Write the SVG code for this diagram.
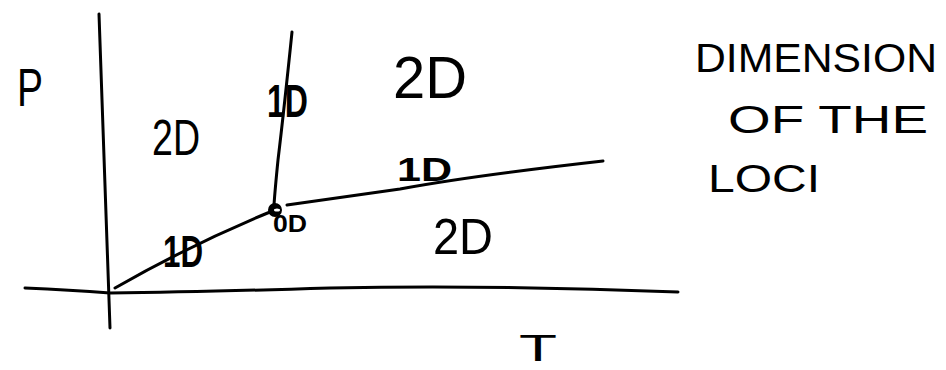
<svg xmlns="http://www.w3.org/2000/svg" width="946" height="370" viewBox="0 0 946 370">
<style>
.ln{fill:none;stroke:#000;stroke-width:3;stroke-linecap:round;stroke-linejoin:round}
.t{font-family:"Liberation Sans",Arial,sans-serif;fill:#000}
.b{font-weight:bold}
</style>
<rect width="946" height="370" fill="#fff"/>
<g id="connectors">
<path id="p-axis" class="ln" d="M99,14 Q104,170 110,328"/>
<path id="t-axis" class="ln" d="M25,288 Q70,290 110,293 Q200,292 330,288 Q500,285 678,292"/>
<path id="line-low" class="ln" d="M115,288 Q190,245 270,212"/>
<path id="line-right" class="ln" d="M287,205 Q330,199 400,189 Q470,176 603,161"/>
<path id="line-up" class="ln" d="M292,32 Q284,110 278,160 Q275,190 274,205"/>
</g>
<g id="triple-point">
<circle cx="275" cy="210" r="6" fill="#000" stroke="#000" stroke-width="2"/>
<ellipse cx="277" cy="210" rx="3" ry="1.5" fill="#fff"/>
</g>
<g id="label-p"><text class="t" x="17" y="106" font-size="54" textLength="26" lengthAdjust="spacingAndGlyphs">P</text></g>
<g id="region-2d-left"><text class="t" x="152" y="155" font-size="50" textLength="48" lengthAdjust="spacingAndGlyphs">2D</text></g>
<g id="label-1d-up"><text class="t b" x="267" y="117" font-size="46" textLength="41" lengthAdjust="spacingAndGlyphs">1D</text></g>
<g id="region-2d-top"><text class="t" x="393" y="98" font-size="60" textLength="74" lengthAdjust="spacingAndGlyphs">2D</text></g>
<g id="label-1d-right"><text class="t b" x="397" y="181" font-size="33" textLength="55" lengthAdjust="spacingAndGlyphs">1D</text></g>
<g id="label-0d"><text class="t b" x="273" y="232" font-size="24" textLength="34" lengthAdjust="spacingAndGlyphs">0D</text></g>
<g id="label-1d-low"><text class="t b" x="163" y="267" font-size="45" textLength="40" lengthAdjust="spacingAndGlyphs">1D</text></g>
<g id="region-2d-bottom"><text class="t" x="433" y="254" font-size="50" textLength="60" lengthAdjust="spacingAndGlyphs">2D</text></g>
<g id="label-t"><text class="t" x="519" y="361" font-size="36" textLength="38" lengthAdjust="spacingAndGlyphs">T</text></g>
<g id="title">
<text class="t" x="695" y="72" font-size="40" textLength="242" lengthAdjust="spacingAndGlyphs">DIMENSION</text>
<text class="t" x="728" y="133" font-size="39" textLength="200" lengthAdjust="spacingAndGlyphs">OF THE</text>
<text class="t" x="708" y="192" font-size="38" textLength="112" lengthAdjust="spacingAndGlyphs">LOCI</text>
</g>
</svg>
